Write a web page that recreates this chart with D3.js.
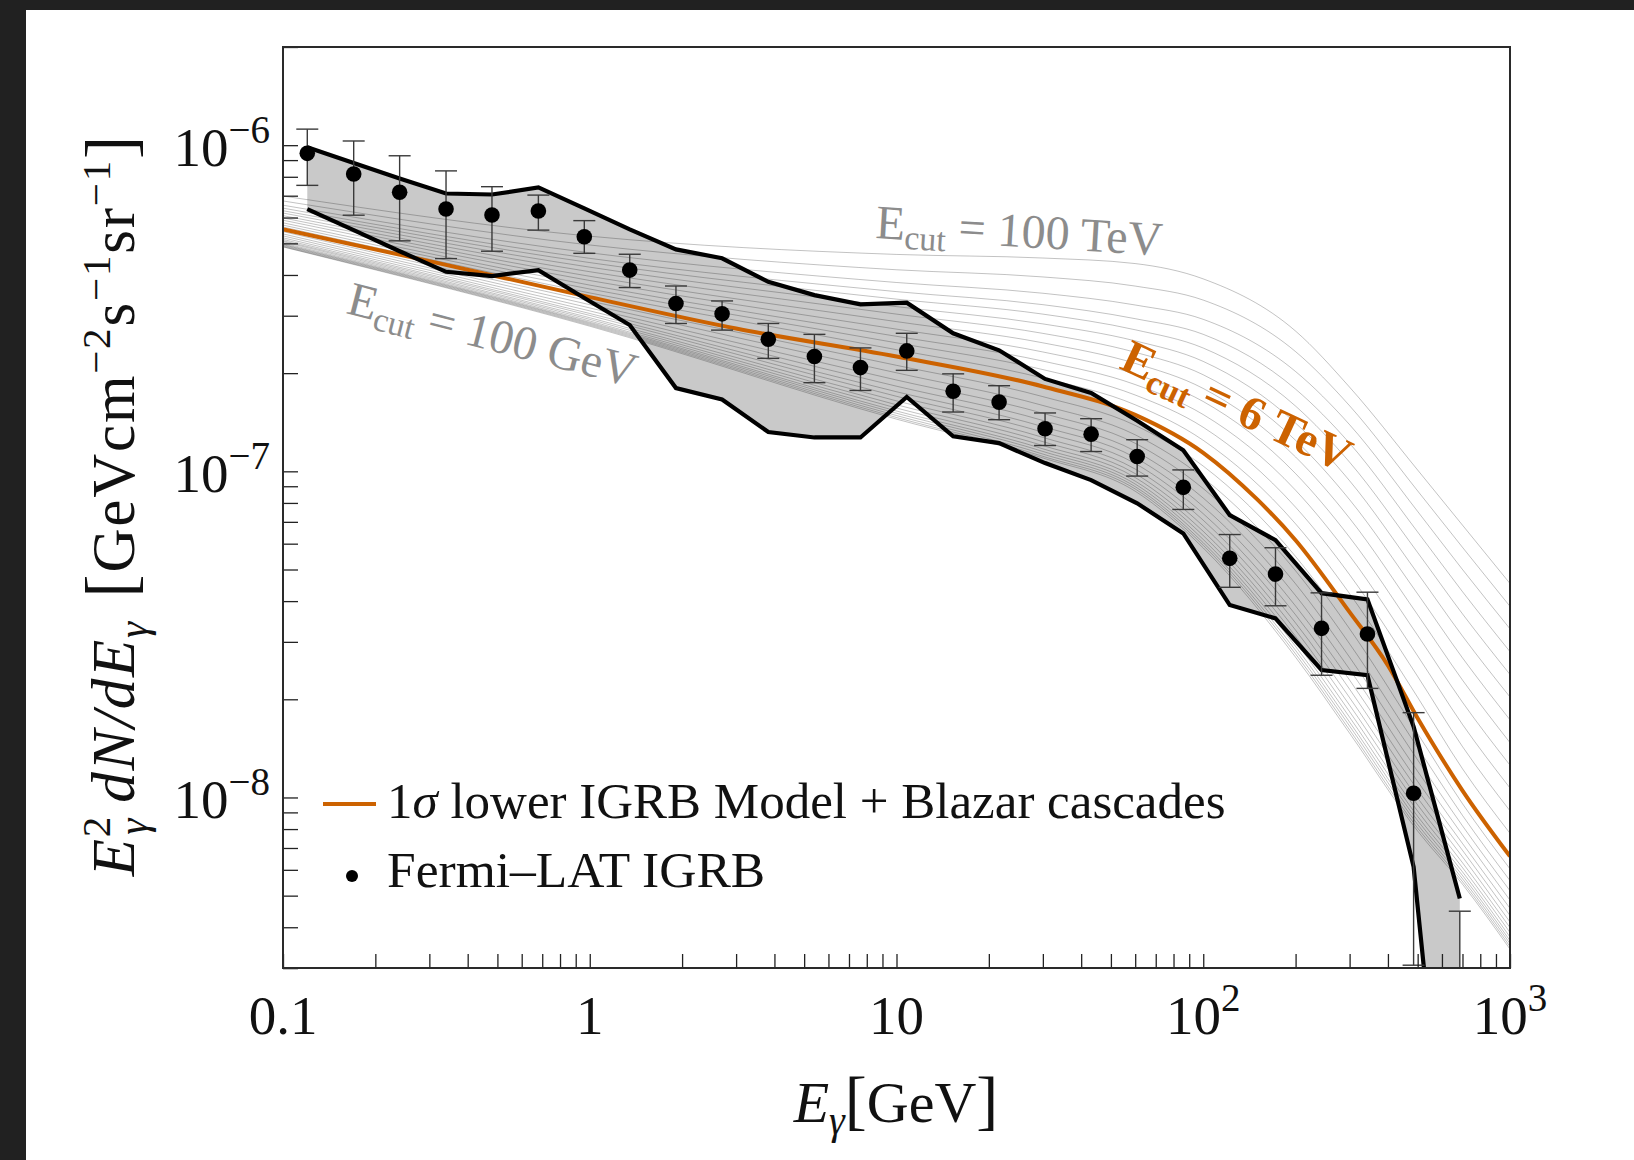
<!DOCTYPE html>
<html>
<head>
<meta charset="utf-8">
<script src="https://cdn.jsdelivr.net/npm/d3@7"></script>
<style>
  html, body { margin: 0; padding: 0; background: #212121; }
  svg { display: block; }
  text { font-family: "Liberation Serif", "Times New Roman", serif; }
</style>
</head>
<body>
<svg id="chart" width="1634" height="1160"></svg>
<script>
// ---- data ----

// Fermi-LAT IGRB bin centres [GeV] and E^2 dN/dE [GeV cm^-2 s^-1 sr^-1]
const binEnergy = [0.12, 0.17, 0.24, 0.34, 0.48, 0.68, 0.96, 1.35, 1.91, 2.70, 3.82, 5.40, 7.63,
                   10.8, 15.3, 21.6, 30.5, 43.1, 60.9, 86.1, 122, 172, 243, 343, 485, 686];
const igrbFlux = [9.44e-7, 8.16e-7, 7.17e-7, 6.37e-7, 6.11e-7, 6.28e-7, 5.24e-7, 4.14e-7, 3.27e-7,
                  3.04e-7, 2.54e-7, 2.25e-7, 2.08e-7, 2.34e-7, 1.76e-7, 1.63e-7, 1.35e-7, 1.30e-7,
                  1.11e-7, 8.93e-8, 5.41e-8, 4.84e-8, 3.30e-8, 3.17e-8, 1.03e-8, 2.3e-9];
const igrbLow = [7.53e-7, 6.10e-7, 5.09e-7, 4.49e-7, 4.73e-7, 5.49e-7, 4.66e-7, 3.66e-7, 2.84e-7,
                 2.71e-7, 2.22e-7, 1.87e-7, 1.77e-7, 2.04e-7, 1.52e-7, 1.44e-7, 1.20e-7, 1.15e-7,
                 9.67e-8, 7.64e-8, 4.41e-8, 3.87e-8, 2.37e-8, 2.16e-8, 3.06e-9, 1.0e-9];
const igrbHigh = [1.12e-6, 1.03e-6, 9.28e-7, 8.34e-7, 7.46e-7, 7.03e-7, 5.87e-7, 4.63e-7, 3.70e-7,
                  3.33e-7, 2.84e-7, 2.63e-7, 2.39e-7, 2.65e-7, 1.99e-7, 1.83e-7, 1.51e-7, 1.45e-7,
                  1.25e-7, 1.01e-7, 6.40e-8, 5.83e-8, 4.24e-8, 4.26e-8, 1.82e-8, 4.48e-9];

// grey band (black outlined), upper and lower edge at the same bins
const bandUpper = [9.85e-7, 8.82e-7, 7.90e-7, 7.11e-7, 7.06e-7, 7.42e-7, 6.40e-7, 5.52e-7, 4.79e-7,
                   4.50e-7, 3.81e-7, 3.47e-7, 3.25e-7, 3.29e-7, 2.65e-7, 2.35e-7, 1.92e-7, 1.74e-7,
                   1.43e-7, 1.16e-7, 7.34e-8, 6.15e-8, 4.23e-8, 4.05e-8, 1.65e-8, 4.9e-9];
const bandLower = [6.37e-7, 5.49e-7, 4.73e-7, 4.09e-7, 3.97e-7, 4.14e-7, 3.40e-7, 2.81e-7, 1.80e-7,
                   1.66e-7, 1.32e-7, 1.27e-7, 1.27e-7, 1.69e-7, 1.28e-7, 1.22e-7, 1.06e-7, 9.40e-8,
                   7.98e-8, 6.45e-8, 3.89e-8, 3.54e-8, 2.46e-8, 2.37e-8, 6.13e-9, 2.5e-10];

// orange curve: 1 sigma lower IGRB model + blazar cascades, Ecut = 6 TeV
const modelEnergy = [0.1, 0.3, 1, 3, 10, 30, 60, 100, 150, 200, 300, 400, 500, 700, 1000];
const modelFlux = [5.52e-7, 4.41e-7, 3.42e-7, 2.74e-7, 2.25e-7, 1.82e-7, 1.49e-7, 1.14e-7, 8.20e-8,
                   6.15e-8, 3.70e-8, 2.54e-8, 1.75e-8, 1.05e-8, 6.6e-9];

// thin grey family, Ecut from 100 TeV (first row) down to 100 GeV (last row)
// values are log10(E^2 dN/dE) at cascadeEnergy
const cascadeEnergy = [0.1, 1, 10, 30, 60, 100, 200, 300, 500, 700, 1000];
const cascadeLog10 = [
  [-6.156, -6.279, -6.335, -6.346, -6.363, -6.410, -6.570, -6.742, -6.996, -7.165, -7.344],
  [-6.171, -6.306, -6.382, -6.404, -6.432, -6.475, -6.633, -6.799, -7.060, -7.233, -7.414],
  [-6.184, -6.330, -6.421, -6.454, -6.490, -6.534, -6.694, -6.857, -7.123, -7.301, -7.483],
  [-6.193, -6.347, -6.449, -6.489, -6.532, -6.580, -6.748, -6.914, -7.186, -7.369, -7.553],
  [-6.201, -6.360, -6.472, -6.518, -6.566, -6.622, -6.800, -6.972, -7.249, -7.437, -7.623],
  [-6.208, -6.374, -6.495, -6.548, -6.600, -6.663, -6.852, -7.029, -7.313, -7.505, -7.692],
  [-6.216, -6.388, -6.518, -6.577, -6.635, -6.704, -6.905, -7.087, -7.376, -7.572, -7.762],
  [-6.223, -6.402, -6.541, -6.606, -6.669, -6.746, -6.956, -7.144, -7.440, -7.640, -7.832],
  [-6.230, -6.415, -6.564, -6.634, -6.702, -6.786, -7.007, -7.202, -7.503, -7.708, -7.901],
  [-6.238, -6.429, -6.586, -6.662, -6.734, -6.826, -7.058, -7.259, -7.566, -7.776, -7.971],
  [-6.245, -6.441, -6.606, -6.688, -6.766, -6.865, -7.110, -7.317, -7.629, -7.844, -8.041],
  [-6.251, -6.453, -6.627, -6.714, -6.796, -6.905, -7.161, -7.375, -7.693, -7.912, -8.110],
  [-6.265, -6.478, -6.675, -6.771, -6.859, -6.984, -7.261, -7.483, -7.804, -8.019, -8.219],
  [-6.272, -6.489, -6.698, -6.798, -6.888, -7.020, -7.305, -7.529, -7.847, -8.055, -8.255],
  [-6.278, -6.499, -6.720, -6.822, -6.914, -7.053, -7.345, -7.570, -7.885, -8.087, -8.286],
  [-6.284, -6.508, -6.739, -6.844, -6.938, -7.082, -7.381, -7.607, -7.920, -8.115, -8.315],
  [-6.289, -6.516, -6.756, -6.863, -6.958, -7.108, -7.413, -7.640, -7.951, -8.141, -8.340],
  [-6.293, -6.522, -6.770, -6.880, -6.976, -7.130, -7.440, -7.668, -7.977, -8.162, -8.362],
  [-6.296, -6.529, -6.784, -6.896, -6.993, -7.150, -7.465, -7.694, -8.002, -8.182, -8.382],
  [-6.300, -6.534, -6.796, -6.909, -7.007, -7.168, -7.487, -7.717, -8.023, -8.200, -8.399],
  [-6.303, -6.539, -6.806, -6.921, -7.019, -7.184, -7.506, -7.737, -8.042, -8.215, -8.414],
  [-6.305, -6.543, -6.815, -6.931, -7.030, -7.197, -7.523, -7.754, -8.058, -8.228, -8.428],
  [-6.307, -6.546, -6.822, -6.939, -7.039, -7.209, -7.537, -7.769, -8.071, -8.239, -8.439],
  [-6.309, -6.549, -6.829, -6.947, -7.047, -7.219, -7.549, -7.781, -8.083, -8.249, -8.448],
  [-6.311, -6.552, -6.835, -6.954, -7.054, -7.227, -7.560, -7.793, -8.094, -8.258, -8.457],
  [-6.312, -6.555, -6.840, -6.959, -7.061, -7.235, -7.570, -7.803, -8.103, -8.266, -8.465]
];

// axis ticks
const xMajor = [0.1, 1, 10, 100, 1000];
const xLabels = [["0.1", ""], ["1", ""], ["10", ""], ["10", "2"], ["10", "3"]];
const yMajor = [1e-6, 1e-7, 1e-8];
const yLabels = [["10", "\u22126"], ["10", "\u22127"], ["10", "\u22128"]];

// ---- layout ----
const margin = {left: 283, top: 47, right: 1510, bottom: 968};
const orange = "#cc6200";

const svg = d3.select("#chart");

// dark screenshot border + white page
svg.append("rect").attr("width", 1634).attr("height", 1160).attr("fill", "#212121");
svg.append("rect").attr("x", 26).attr("y", 10).attr("width", 1608).attr("height", 1150).attr("fill", "#fff");

const x = d3.scaleLog().domain([0.1, 1000]).range([margin.left, margin.right]);
const y = d3.scaleLog().domain([3e-9, 2e-6]).range([margin.bottom, margin.top]);

svg.append("defs").append("clipPath").attr("id", "plotClip")
  .append("rect")
  .attr("x", margin.left).attr("y", margin.top)
  .attr("width", margin.right - margin.left).attr("height", margin.bottom - margin.top);

const plot = svg.append("g").attr("clip-path", "url(#plotClip)");

// band fill
const bandData = binEnergy.map((e, i) => ({e: e, hi: bandUpper[i], lo: bandLower[i]}));
plot.append("path")
  .datum(bandData)
  .attr("fill", "#c9c9c9")
  .attr("d", d3.area().x(d => x(d.e)).y0(d => y(d.lo)).y1(d => y(d.hi)));

// grey Ecut family
const cascadeLine = d3.line()
  .x(d => x(d.e)).y(d => y(d.v))
  .curve(d3.curveMonotoneX);
cascadeLog10.forEach(row => {
  plot.append("path")
    .datum(row.map((v, i) => ({e: cascadeEnergy[i], v: Math.pow(10, v)})))
    .attr("fill", "none")
    .attr("stroke", "#000")
    .attr("stroke-opacity", 0.24)
    .attr("stroke-width", 1)
    .attr("d", cascadeLine);
});

// orange model
plot.append("path")
  .datum(modelEnergy.map((e, i) => ({e: e, v: modelFlux[i]})))
  .attr("fill", "none")
  .attr("stroke", orange)
  .attr("stroke-width", 4)
  .attr("d", cascadeLine);

// band outlines
const edgeLine = d3.line().x(d => x(d.e)).y(d => y(d.v));
[bandUpper, bandLower].forEach(edge => {
  plot.append("path")
    .datum(binEnergy.map((e, i) => ({e: e, v: edge[i]})))
    .attr("fill", "none")
    .attr("stroke", "#000")
    .attr("stroke-width", 4.2)
    .attr("stroke-linejoin", "miter")
    .attr("d", edgeLine);
});

// error bars
const bars = plot.append("g").attr("stroke", "#3a3a3a").attr("stroke-width", 1.4);
binEnergy.forEach((e, i) => {
  const cx = x(e);
  bars.append("line").attr("x1", cx).attr("x2", cx).attr("y1", y(igrbLow[i])).attr("y2", y(igrbHigh[i]));
  bars.append("line").attr("x1", cx - 11).attr("x2", cx + 11).attr("y1", y(igrbLow[i])).attr("y2", y(igrbLow[i]));
  bars.append("line").attr("x1", cx - 11).attr("x2", cx + 11).attr("y1", y(igrbHigh[i])).attr("y2", y(igrbHigh[i]));
});

// data points
plot.selectAll("circle.pt")
  .data(binEnergy)
  .enter().append("circle")
  .attr("class", "pt")
  .attr("cx", d => x(d))
  .attr("cy", (d, i) => y(igrbFlux[i]))
  .attr("r", 7.8)
  .attr("fill", "#000");

// ---- axes ----
const xTicks = [];
[0.1, 1, 10, 100].forEach(d => { for (let k = 1; k <= 9; k++) xTicks.push(d * k); });
xTicks.push(1000);
const yTicks = [3e-9];
[1e-9, 1e-8, 1e-7].forEach(d => { for (let k = 1; k <= 9; k++) if (d * k > 2.9e-9) yTicks.push(d * k); });
yTicks.push(1e-6, 2e-6);

const xAxis = svg.append("g")
  .attr("transform", "translate(0," + margin.bottom + ")")
  .call(d3.axisBottom(x).tickValues(xTicks).tickSize(-14).tickFormat(""));
const yAxis = svg.append("g")
  .attr("transform", "translate(" + margin.left + ",0)")
  .call(d3.axisLeft(y).tickValues(yTicks).tickSize(-15).tickFormat(""));
[xAxis, yAxis].forEach(a => {
  a.select(".domain").remove();
  a.selectAll(".tick line").attr("stroke", "#222").attr("stroke-width", 1.3);
});

// frame
svg.append("rect")
  .attr("x", margin.left).attr("y", margin.top)
  .attr("width", margin.right - margin.left).attr("height", margin.bottom - margin.top)
  .attr("fill", "none").attr("stroke", "#2a2a2a").attr("stroke-width", 2);

// tick labels
xMajor.forEach((v, i) => {
  const t = svg.append("text")
    .attr("x", x(v)).attr("y", 1034)
    .attr("text-anchor", "middle")
    .attr("font-size", 55).attr("fill", "#111");
  t.append("tspan").text(xLabels[i][0]);
  if (xLabels[i][1]) t.append("tspan").attr("dy", -23).attr("font-size", 39).text(xLabels[i][1]);
});
yMajor.forEach((v, i) => {
  const t = svg.append("text")
    .attr("x", 270).attr("y", y(v) + 21)
    .attr("text-anchor", "end")
    .attr("font-size", 55).attr("fill", "#111");
  t.append("tspan").text(yLabels[i][0]);
  t.append("tspan").attr("dy", -23).attr("font-size", 39).text(yLabels[i][1]);
});

// text made of runs with baseline shifts
function richText(g, parts) {
  const t = g.append("text");
  let cur = 0;
  parts.forEach(p => {
    const shift = p.shift || 0;
    const ts = t.append("tspan").text(p.t).attr("dy", shift - cur);
    cur = shift;
    if (p.size) ts.attr("font-size", p.size);
    if (p.italic) ts.attr("font-style", "italic");
    if (p.dx) ts.attr("dx", p.dx);
  });
  return t;
}

// axis titles
const yTitle = richText(svg.append("g").attr("transform", "translate(134,505) rotate(-90)"), [
  {t: "E", italic: true},
  {t: "2", shift: -24, size: 41},
  {t: "\u03b3", shift: 13, size: 41, italic: true, dx: -20},
  {t: "\u2009dN/dE", italic: true},
  {t: "\u03b3", shift: 13, size: 41, italic: true},
  {t: "\u2002", size: 41},
  {t: "[", size: 70},
  {t: "GeVcm"},
  {t: "\u22122", shift: -24, size: 41},
  {t: "s"},
  {t: "\u22121", shift: -24, size: 41},
  {t: "sr"},
  {t: "\u22121", shift: -24, size: 41},
  {t: "]", size: 70}
]);
yTitle.attr("text-anchor", "middle").attr("font-size", 61).attr("letter-spacing", 1.8).attr("fill", "#111");

const xTitle = richText(svg.append("g").attr("transform", "translate(896,1122)"), [
  {t: "E", italic: true},
  {t: "\u03b3", shift: 12, size: 40, italic: true},
  {t: "[", size: 66},
  {t: "GeV"},
  {t: "]", size: 66}
]);
xTitle.attr("text-anchor", "middle").attr("font-size", 58).attr("fill", "#111");

// in-plot annotations
function ecutLabel(tx, ty, angle, value, color, bold) {
  const t = richText(svg.append("g").attr("transform", "translate(" + tx + "," + ty + ") rotate(" + angle + ")"), [
    {t: "E"},
    {t: "cut", shift: 9, size: 34},
    {t: " = " + value}
  ]);
  t.attr("font-size", 48).attr("fill", color);
  if (bold) t.attr("font-weight", "bold");
}
ecutLabel(875, 238, 3.5, "100 TeV", "#8c8c8c", false);
ecutLabel(345, 313, 14.5, "100 GeV", "#8c8c8c", false);
ecutLabel(1118, 368, 25, "6 TeV", orange, true);

// legend
svg.append("line")
  .attr("x1", 323).attr("x2", 376).attr("y1", 804).attr("y2", 804)
  .attr("stroke", orange).attr("stroke-width", 4);
const leg1 = richText(svg.append("g").attr("transform", "translate(387,818)"), [
  {t: "1"},
  {t: "\u03c3", italic: true},
  {t: " lower IGRB Model + Blazar cascades"}
]);
leg1.attr("font-size", 51).attr("fill", "#111");
svg.append("circle").attr("cx", 352).attr("cy", 876).attr("r", 6).attr("fill", "#000");
svg.append("text").attr("x", 387).attr("y", 887)
  .attr("font-size", 51.5).attr("fill", "#111")
  .text("Fermi\u2013LAT IGRB");
</script>
</body>
</html>
